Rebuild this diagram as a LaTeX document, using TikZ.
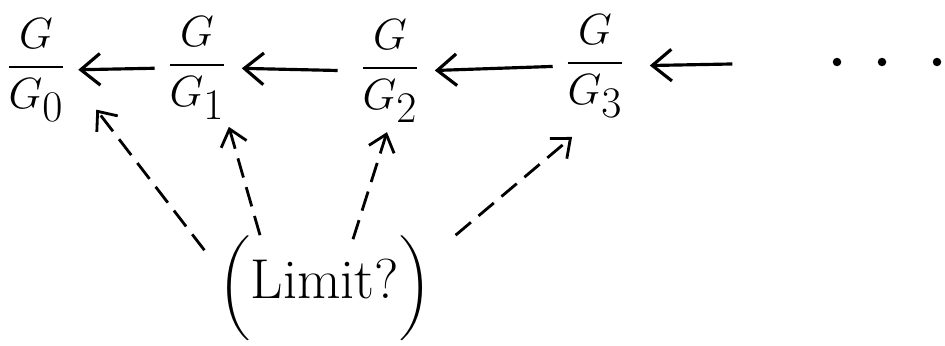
\documentclass[tikz,border=0pt]{standalone}
\usepackage{amsmath}
\usepackage{tikz}
\usetikzlibrary{arrows.meta, calc, positioning}

\begin{document}
\begin{tikzpicture}[
  x=0.02cm, y=-0.02cm,
  every node/.style={font=\fontsize{32}{38}\selectfont, inner sep=0pt},
  quot/.style={font=\fontsize{36}{43}\selectfont},
  dotmark/.style={circle, fill, minimum size=0.17cm},
  arrow/.style={-{Straight Barb[length=11pt,width=18pt]}, line width=1.8pt},
  dasharrow/.style={-{Straight Barb[length=9pt,width=15pt]}, line width=1.6pt, dash pattern=on 0.4cm off 0.2cm}
]
\useasboundingbox (0,0) rectangle (945,345);

% Nodes
\node[quot] (q0) at (36,70) {$\dfrac{G}{G_0}$};
\node[quot] (q1) at (197,68) {$\dfrac{G}{G_1}$};
\node[quot] (q2) at (390,71) {$\dfrac{G}{G_2}$};
\node[quot] (q3) at (595,66) {$\dfrac{G}{G_3}$};
\node[dotmark] (dot1) at (837,62) {};
\node[dotmark] (dot2) at (882,62) {};
\node[dotmark] (dot3) at (937,62) {};
\node (limit) at (325,288) {$\left(\rule[-0.8cm]{0pt}{1.6cm}\text{Limit?}\right)$};

% Arrows
\draw[arrow, shorten <=0.25cm, shorten >=0.25cm] (q1.west) -- (q0.east);
\draw[arrow, shorten <=0.45cm, shorten >=0.3cm] (q2.west) -- (q1.east);
\draw[arrow, shorten <=0.25cm, shorten >=0.3cm] (q3.west) -- (q2.east);
\draw[arrow, shorten <=2cm, shorten >=0.5cm] (dot1) -- (q3.east);

% Dashed arrows from the limit
\draw[dasharrow, shorten >=1cm] ($(limit.north west)+(-14,15)$) -- (q0.east);
\draw[dasharrow, shorten >=0.15cm] ($(limit.north)+(-65,0)$) -- (q1.south east);
\draw[dasharrow, shorten >=0.2cm] ($(limit.north)+(28,4)$) -- (q2.south);
\draw[dasharrow, shorten >=0.6cm] ($(limit.north east)+(24,0)$) -- (q3.south);

\end{tikzpicture}
\end{document}
